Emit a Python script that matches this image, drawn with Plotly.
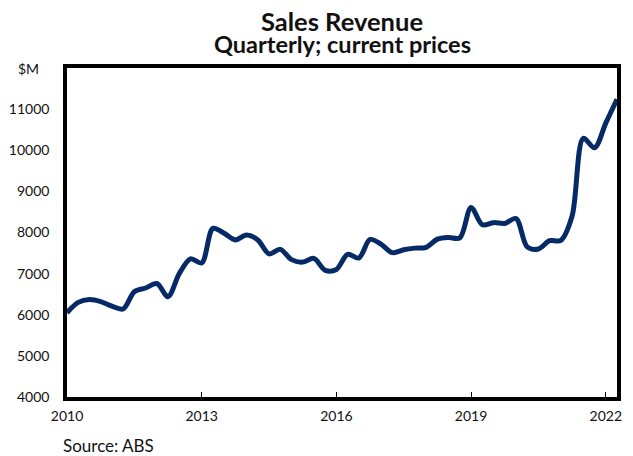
import plotly.graph_objects as go

# Quarterly sales revenue ($M), starting 2010 Q1
quarter_index = list(range(50))
sales_revenue = [
    6050, 6300, 6370, 6320, 6210, 6140, 6560, 6650, 6760, 6440,
    7000, 7360, 7260, 8100, 7980, 7820, 7940, 7820, 7480, 7590,
    7340, 7280, 7370, 7080, 7100, 7470, 7380, 7830, 7710, 7510,
    7580, 7620, 7640, 7840, 7880, 7870, 8610, 8190, 8240, 8220,
    8340, 7650, 7600, 7800, 7810, 8400, 10290, 10060, 10660, 11240,
]
x_years = [2010 + i / 4 for i in quarter_index]

x_tick_vals = [2010, 2013, 2016, 2019, 2022]
x_tick_text = ["2010", "2013", "2016", "2019", "2022"]
y_tick_vals = [4000, 5000, 6000, 7000, 8000, 9000, 10000, 11000]
y_tick_text = [str(v) for v in y_tick_vals]

FONT = "Lato, 'Open Sans', sans-serif"
INK = "#111111"

fig = go.Figure()
fig.add_trace(go.Scatter(
    x=x_years, y=sales_revenue, mode="lines",
    line=dict(color="#062a66", width=5, shape="spline", smoothing=0.9),
    hoverinfo="x+y", showlegend=False,
))

fig.update_layout(
    width=633, height=456,
    margin=dict(l=67, r=16, t=68, b=59, autoexpand=False),
    paper_bgcolor="white", plot_bgcolor="white",
    font=dict(family=FONT, color=INK, size=14),
    xaxis=dict(
        range=[2010, x_years[-1]], tickvals=x_tick_vals, ticktext=x_tick_text,
        ticks="inside", ticklen=5, tickwidth=1, tickcolor="black",
        showline=True, linecolor="black", linewidth=3.5, mirror=True,
        showgrid=False, zeroline=False, tickfont=dict(size=14, color=INK),
        automargin=False, ticklabelstandoff=3,
    ),
    yaxis=dict(
        range=[4000, 12000], tickvals=y_tick_vals, ticktext=y_tick_text,
        ticks="outside", ticklen=11, tickcolor="rgba(0,0,0,0)",
        showline=True, linecolor="black", linewidth=3.5, mirror=True,
        showgrid=False, zeroline=False, tickfont=dict(size=14, color=INK),
        automargin=False,
    ),
    annotations=[
        dict(text="<b>Sales Revenue</b>", x=0.5, y=1, xref="paper", yref="paper",
             yanchor="middle", yshift=47, showarrow=False,
             font=dict(size=25.5, family=FONT, color=INK)),
        dict(text="<b>Quarterly; current prices</b>", x=0.5, y=1, xref="paper",
             yref="paper", yanchor="middle", yshift=24.5, showarrow=False,
             font=dict(size=23.5, family=FONT, color=INK)),
        dict(text="$M", x=0, y=12000, xref="paper", yref="y", xanchor="center",
             yanchor="middle", xshift=-39, showarrow=False,
             font=dict(size=14, family=FONT, color=INK)),
        dict(text="Source: ABS", x=0, y=0, xref="paper", yref="paper",
             xanchor="left", yanchor="middle", xshift=-6, yshift=-48.5,
             showarrow=False, font=dict(size=17, family=FONT, color=INK)),
    ],
)

# Remove the page's default body margin so the figure sits at the window origin.
fig.write_html(
    "out.html",
    config={"displayModeBar": False},
    post_script="document.body.style.margin='0px';",
)
